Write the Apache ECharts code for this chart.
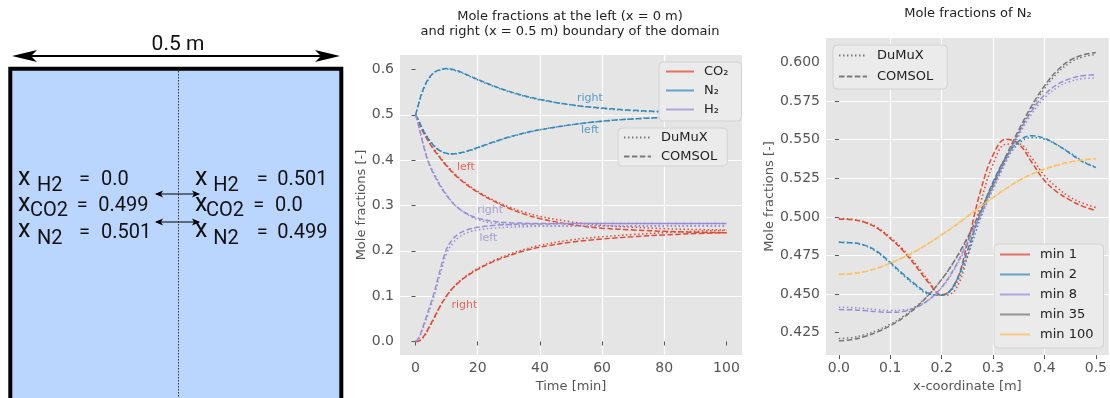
<!DOCTYPE html>
<html>
<head>
<meta charset="utf-8">
<script src="https://cdn.jsdelivr.net/npm/echarts@6/dist/echarts.min.js"></script>
<style>
  html, body { margin: 0; padding: 0; background: #fff; }
  #chart { width: 1110px; height: 398px; }
</style>
</head>
<body>
<div id="chart"></div>
<script>
// ---- boundary mole fractions over time (middle panel) ----
var timeMin = [0, 1, 2, 3, 4, 5, 6, 8, 10, 12, 14, 16, 18, 20, 25, 30, 35, 40, 50, 60, 70, 80, 90, 100];

var co2LeftComsol  = [0.500,0.485,0.468,0.455,0.443,0.432,0.422,0.404,0.387,0.372,0.359,0.348,0.338,0.329,0.310,0.294,0.281,0.271,0.258,0.250,0.246,0.243,0.241,0.240];
var co2LeftDumux   = [0.500,0.486,0.470,0.457,0.445,0.434,0.424,0.406,0.389,0.374,0.361,0.350,0.340,0.331,0.312,0.297,0.285,0.276,0.264,0.256,0.252,0.249,0.247,0.246];
var co2RightComsol = [0.000,0.001,0.006,0.015,0.027,0.040,0.053,0.079,0.101,0.118,0.131,0.142,0.151,0.159,0.176,0.189,0.200,0.208,0.219,0.226,0.231,0.235,0.238,0.240];
var co2RightDumux  = [0.000,0.001,0.005,0.013,0.025,0.038,0.051,0.078,0.100,0.118,0.132,0.143,0.153,0.161,0.178,0.192,0.203,0.212,0.224,0.231,0.236,0.240,0.243,0.245];
var n2LeftComsol   = [0.500,0.487,0.472,0.459,0.448,0.439,0.431,0.420,0.415,0.414,0.416,0.419,0.423,0.428,0.440,0.451,0.460,0.467,0.478,0.486,0.491,0.494,0.496,0.497];
var n2LeftDumux    = [0.500,0.488,0.473,0.460,0.449,0.440,0.432,0.421,0.415,0.413,0.415,0.418,0.422,0.427,0.439,0.450,0.459,0.467,0.478,0.486,0.491,0.494,0.496,0.497];
var n2RightComsol  = [0.500,0.525,0.548,0.565,0.578,0.587,0.594,0.600,0.602,0.600,0.596,0.590,0.584,0.578,0.564,0.552,0.542,0.534,0.522,0.515,0.510,0.507,0.504,0.502];
var n2RightDumux   = [0.500,0.523,0.546,0.563,0.576,0.586,0.593,0.599,0.601,0.599,0.595,0.589,0.583,0.577,0.563,0.551,0.541,0.533,0.522,0.514,0.509,0.506,0.504,0.502];
var h2LeftComsol   = [0.000,0.008,0.025,0.045,0.065,0.086,0.108,0.160,0.204,0.226,0.238,0.245,0.249,0.252,0.256,0.258,0.259,0.259,0.260,0.260,0.260,0.260,0.260,0.260];
var h2LeftDumux    = [0.000,0.006,0.021,0.040,0.059,0.079,0.100,0.150,0.194,0.217,0.230,0.238,0.243,0.246,0.250,0.252,0.253,0.254,0.254,0.255,0.255,0.255,0.255,0.255];
var h2RightComsol  = [0.500,0.475,0.447,0.420,0.398,0.381,0.367,0.342,0.322,0.305,0.293,0.284,0.277,0.272,0.265,0.262,0.261,0.260,0.260,0.260,0.260,0.260,0.260,0.260];
var h2RightDumux   = [0.500,0.476,0.449,0.423,0.401,0.384,0.370,0.345,0.324,0.306,0.293,0.283,0.275,0.269,0.261,0.258,0.256,0.255,0.255,0.255,0.255,0.255,0.255,0.255];

// text notes on the middle panel: [text, gas, time, mole fraction]
var sideNotes = [
  ['right', 'N₂', 56.1, 0.537],
  ['left', 'N₂', 56.1, 0.466],
  ['left', 'CO₂', 16.2, 0.384],
  ['right', 'H₂', 24.0, 0.289],
  ['left', 'H₂', 23.4, 0.229],
  ['right', 'CO₂', 15.7, 0.080]
];

// ---- N2 profiles along x (right panel) ----
var xCoord = [0,0.025,0.05,0.075,0.1,0.125,0.15,0.175,0.2,0.225,0.25,0.275,0.3,0.325,0.35,0.375,0.4,0.425,0.45,0.475,0.5];
var profileMinutes = ['min 1', 'min 2', 'min 8', 'min 35', 'min 100'];

var min1Comsol   = [0.4985,0.4982,0.4965,0.4925,0.4860,0.4780,0.4680,0.4572,0.4495,0.4560,0.4825,0.5160,0.5400,0.5502,0.5472,0.5355,0.5235,0.5160,0.5108,0.5068,0.5040];
var min1Dumux    = [0.4990,0.4985,0.4968,0.4930,0.4868,0.4790,0.4692,0.4585,0.4492,0.4520,0.4740,0.5080,0.5340,0.5470,0.5472,0.5382,0.5268,0.5188,0.5128,0.5088,0.5060];
var min2Comsol   = [0.4835,0.4832,0.4817,0.4775,0.4705,0.4630,0.4560,0.4505,0.4492,0.4565,0.4780,0.5020,0.5225,0.5385,0.5490,0.5525,0.5508,0.5465,0.5410,0.5355,0.5320];
var min2Dumux    = [0.4835,0.4831,0.4814,0.4770,0.4698,0.4622,0.4553,0.4500,0.4495,0.4550,0.4745,0.4985,0.5195,0.5362,0.5475,0.5513,0.5503,0.5465,0.5415,0.5360,0.5322];
var min8Comsol   = [0.4400,0.4398,0.4393,0.4386,0.4382,0.4388,0.4412,0.4463,0.4545,0.4670,0.4835,0.5010,0.5195,0.5375,0.5545,0.5685,0.5790,0.5857,0.5895,0.5914,0.5920];
var min8Dumux    = [0.4415,0.4413,0.4407,0.4399,0.4394,0.4397,0.4417,0.4463,0.4540,0.4660,0.4820,0.4993,0.5175,0.5355,0.5525,0.5665,0.5770,0.5838,0.5877,0.5895,0.5900];
var min35Comsol  = [0.4198,0.4205,0.4225,0.4255,0.4295,0.4347,0.4413,0.4495,0.4595,0.4717,0.4865,0.5035,0.5215,0.5393,0.5563,0.5718,0.5848,0.5948,0.6014,0.6049,0.6064];
var min35Dumux   = [0.4212,0.4218,0.4237,0.4266,0.4305,0.4355,0.4419,0.4498,0.4595,0.4713,0.4857,0.5023,0.5200,0.5376,0.5545,0.5700,0.5830,0.5931,0.5999,0.6036,0.6051];
var min100Comsol = [0.4627,0.4631,0.4645,0.4668,0.4700,0.4737,0.4778,0.4828,0.4883,0.4940,0.5002,0.5065,0.5125,0.5183,0.5235,0.5277,0.5310,0.5336,0.5356,0.5370,0.5377];
var min100Dumux  = [0.4630,0.4634,0.4647,0.4670,0.4702,0.4739,0.4780,0.4830,0.4885,0.4942,0.5003,0.5065,0.5124,0.5181,0.5232,0.5274,0.5307,0.5333,0.5353,0.5367,0.5375];

// tick labels
var timeTicks = [0, 20, 40, 60, 80, 100];
var fracTicks = [0, 0.1, 0.2, 0.3, 0.4, 0.5, 0.6];
var xTicks = [0, 0.1, 0.2, 0.3, 0.4, 0.5];
var n2Ticks = [0.425, 0.45, 0.475, 0.5, 0.525, 0.55, 0.575, 0.6];

var FONT = 'DejaVu Sans';
var gasColors = { 'CO₂': '#E24A33', 'N₂': '#348ABD', 'H₂': '#988ED5' };
var minuteColors = ['#E24A33', '#348ABD', '#988ED5', '#777777', '#FBC15E'];
var DOTTED = [1.5, 2.5];
var DASHED = [5.5, 2.4];

function zip(xs, ys) {
  return xs.map(function (x, i) { return [x, ys[i]]; });
}

function curve(name, xs, ys, color, dash, axis) {
  return {
    name: name, type: 'line', xAxisIndex: axis, yAxisIndex: axis,
    data: zip(xs, ys), symbol: 'none', smooth: 0.4,
    lineStyle: { color: color, width: 1.5, type: dash, cap: 'butt' },
    itemStyle: { color: color }, silent: true, z: 3
  };
}

// empty series, only there so the legends get their line samples
function legendOnly(name, color, dash, axis) {
  return {
    name: name, type: 'line', xAxisIndex: axis, yAxisIndex: axis, data: [],
    symbol: 'none', lineStyle: { color: color, width: 1.5, type: dash, opacity: 0.75 },
    itemStyle: { color: color, opacity: 0 }
  };
}

function legendBox(names, left, top, itemWidth, gap, pad) {
  return {
    data: names, orient: 'vertical', left: left, top: top,
    itemWidth: itemWidth, itemHeight: 14, itemGap: gap, padding: pad,
    backgroundColor: '#EBEBEB', borderColor: '#D2D2D2', borderWidth: 1, borderRadius: 4,
    selectedMode: false, itemStyle: { opacity: 0 },
    textStyle: { fontFamily: FONT, fontSize: 13, color: '#222', padding: [0, 0, 0, 5] }
  };
}

function valueAxis(idx, min, max, step, ticks, digits, name, gap) {
  return {
    type: 'value', gridIndex: idx, min: min, max: max,
    minInterval: step, maxInterval: step,
    name: name, nameLocation: 'middle', nameGap: gap,
    nameTextStyle: { fontFamily: FONT, fontSize: 13, color: '#555' },
    axisLine: { show: false },
    axisTick: { show: true, length: 4, customValues: ticks, lineStyle: { color: '#555' } },
    axisLabel: {
      customValues: ticks, margin: 6, fontFamily: FONT, fontSize: 14, color: '#555',
      formatter: function (v) { return digits === 0 ? String(Math.round(v)) : v.toFixed(digits); }
    },
    splitLine: { show: true, showMinLine: false, showMaxLine: false, lineStyle: { color: '#fff', width: 1.2 } }
  };
}

var series = [];
var boundaryCurves = [
  ['CO₂ left', co2LeftDumux, co2LeftComsol, 'CO₂'],
  ['CO₂ right', co2RightDumux, co2RightComsol, 'CO₂'],
  ['N₂ left', n2LeftDumux, n2LeftComsol, 'N₂'],
  ['N₂ right', n2RightDumux, n2RightComsol, 'N₂'],
  ['H₂ left', h2LeftDumux, h2LeftComsol, 'H₂'],
  ['H₂ right', h2RightDumux, h2RightComsol, 'H₂']
];
boundaryCurves.forEach(function (c) {
  var col = gasColors[c[3]];
  series.push(curve(c[0] + ' DuMuX', timeMin, c[1], col, DOTTED, 0));
  series.push(curve(c[0] + ' COMSOL', timeMin, c[2], col, DASHED, 0));
});

series.push({
  name: 'notes', type: 'scatter', xAxisIndex: 0, yAxisIndex: 0, symbolSize: 1, silent: true, z: 5,
  itemStyle: { opacity: 0 },
  data: sideNotes.map(function (n) {
    return {
      value: [n[2], n[3]],
      label: {
        show: true, position: 'inside', formatter: n[0],
        color: gasColors[n[1]], opacity: 0.8, fontFamily: FONT, fontSize: 11
      }
    };
  })
});

var profiles = [
  [min1Dumux, min1Comsol], [min2Dumux, min2Comsol], [min8Dumux, min8Comsol],
  [min35Dumux, min35Comsol], [min100Dumux, min100Comsol]
];
profiles.forEach(function (p, i) {
  series.push(curve(profileMinutes[i] + ' DuMuX', xCoord, p[0], minuteColors[i], DOTTED, 1));
  series.push(curve(profileMinutes[i] + ' COMSOL', xCoord, p[1], minuteColors[i], DASHED, 1));
});

['CO₂', 'N₂', 'H₂'].forEach(function (g) { series.push(legendOnly(g, gasColors[g], 'solid', 0)); });
series.push(legendOnly('DuMuX', '#555', DOTTED, 0));
series.push(legendOnly('COMSOL', '#555', DASHED, 0));
profileMinutes.forEach(function (m, i) { series.push(legendOnly(m, minuteColors[i], 'solid', 1)); });

// ---- left panel: sketch of the domain ----
function txt(s, x, y, size, align, fam, color) {
  return {
    type: 'text', silent: true, z: 10,
    style: {
      text: s, x: x, y: y, font: size + 'px ' + (fam || 'Roboto'), fill: color || '#111',
      align: align || 'left', verticalAlign: 'middle',
      textAlign: align || 'left', textVerticalAlign: 'middle'
    }
  };
}
function arrowHead(tipX, y, dir, len, half, notch) {
  return {
    type: 'polygon', silent: true, z: 10,
    shape: { points: [[tipX, y], [tipX + dir * len, y - half], [tipX + dir * notch, y], [tipX + dir * len, y + half]] },
    style: { fill: '#000' }
  };
}
function hline(x1, x2, y, w) {
  return { type: 'line', silent: true, z: 10, shape: { x1: x1, y1: y, x2: x2, y2: y }, style: { stroke: '#000', lineWidth: w } };
}

var sketch = [
  { type: 'rect', silent: true, z: 1, shape: { x: 10.3, y: 68.7, width: 331, height: 340 },
    style: { fill: '#BAD6FE', stroke: '#000', lineWidth: 4 } },
  { type: 'line', silent: true, z: 2, shape: { x1: 178.5, y1: 71, x2: 178.5, y2: 398 },
    style: { stroke: '#333', lineWidth: 1, lineDash: [1.5, 1.5] } },
  hline(30, 322, 56, 2), arrowHead(12, 56, 1, 25, 6, 19), arrowHead(340, 56, -1, 25, 6, 19),
  txt('0.5 m', 178, 45, 21, 'center'),
  hline(156, 199, 194, 1), arrowHead(155, 194, 1, 8, 3.5, 6), arrowHead(200, 194, -1, 8, 3.5, 6),
  hline(156, 199, 222, 1), arrowHead(155, 222, 1, 8, 3.5, 6), arrowHead(200, 222, -1, 8, 3.5, 6),
  // left column
  txt('x', 18, 178.7, 25), txt('H2', 37, 186.2, 20), txt('=', 79, 180.2, 20), txt('0.0', 101, 180.2, 20),
  txt('x', 18, 204.4, 25), txt('CO2', 30, 210.9, 20), txt('=', 76.7, 205.9, 20), txt('0.499', 98.3, 205.9, 20),
  txt('x', 18, 231, 25), txt('N2', 37, 239.2, 20), txt('=', 79, 232.5, 20), txt('0.501', 101, 232.5, 20),
  // right column
  txt('x', 195, 178.7, 25), txt('H2', 213.3, 186.2, 20), txt('=', 256.7, 180.2, 20), txt('0.501', 277.3, 180.2, 20),
  txt('x', 195, 204.4, 25), txt('CO2', 206, 210.9, 20), txt('=', 253.3, 205.9, 20), txt('0.0', 275, 205.9, 20),
  txt('x', 195, 231, 25), txt('N2', 213.3, 239.2, 20), txt('=', 256.7, 232.5, 20), txt('0.499', 277.3, 232.5, 20),
  // titles
  txt('Mole fractions at the left (x = 0 m)', 570, 16.5, 13, 'center', FONT, '#222'),
  txt('and right (x = 0.5 m) boundary of the domain', 570, 31.5, 13, 'center', FONT, '#222'),
  txt('Mole fractions of N₂', 968, 13.5, 13, 'center', FONT, '#222')
];

var option = {
  animation: false,
  backgroundColor: '#fff',
  textStyle: { fontFamily: FONT },
  graphic: { elements: sketch },
  grid: [
    { left: 400, top: 55, width: 342, height: 307, show: true, backgroundColor: '#E5E5E5', borderWidth: 0 },
    { left: 826, top: 38, width: 286, height: 322, show: true, backgroundColor: '#E5E5E5', borderWidth: 0 }
  ],
  xAxis: [
    valueAxis(0, -5, 105, 20, timeTicks, 0, 'Time [min]', 18),
    valueAxis(1, -0.025, 0.525, 0.1, xTicks, 1, 'x-coordinate [m]', 20)
  ],
  yAxis: [
    valueAxis(0, -0.0301, 0.632, 0.1, fracTicks, 1, 'Mole fractions [-]', 30),
    valueAxis(1, 0.4105, 0.6158, 0.025, n2Ticks, 3, 'Mole fractions [-]', 47)
  ],
  legend: [
    legendBox(['CO₂', 'N₂', 'H₂'], 659, 62, 28, 6, [3, 13, 5, 6]),
    legendBox(['DuMuX', 'COMSOL'], 618, 128, 27, 6, [3, 10, 3, 5]),
    legendBox(['DuMuX', 'COMSOL'], 833, 45, 28, 8, [4, 14, 6, 5]),
    legendBox(profileMinutes, 994, 244, 30, 7, [4, 10, 7, 5])
  ],
  series: series
};

var chart = echarts.init(document.getElementById('chart'));
chart.setOption(option);
</script>
</body>
</html>
